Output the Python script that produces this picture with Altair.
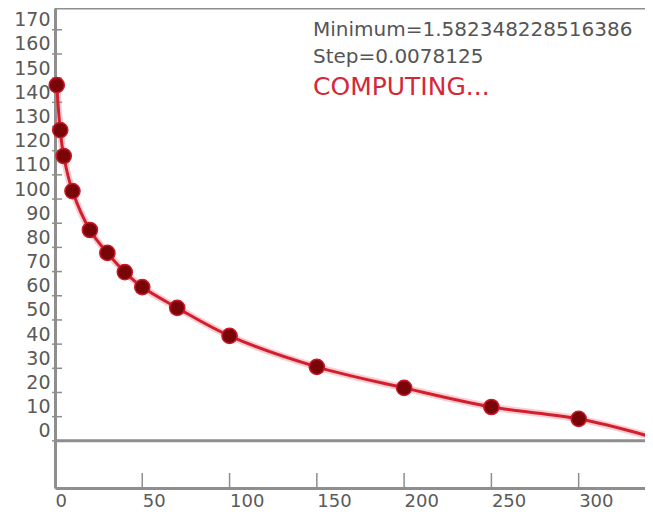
import altair as alt
import pandas as pd

# Data
POINT_X = [1, 3, 5, 10, 20, 30, 40, 50, 70, 100, 150, 200, 250, 300]
POINT_Y = [147.1, 128.5, 117.8, 103.3, 87.2, 77.7, 69.8, 63.6, 55.0, 43.4, 30.6, 21.9, 14.0, 9.1]
END_X = [342]
END_Y = [1.58]
Y_TICKS = list(range(0, 171, 10))
X_TICKS = [0, 50, 100, 150, 200, 250, 300]
X_DOMAIN = [0, 338]
Y_DOMAIN = [-19.5, 179]
INFO_MIN = "Minimum=1.582348228516386"
INFO_STEP = "Step=0.0078125"
STATUS = "COMPUTING..."

pts = pd.DataFrame({"x": POINT_X, "y": POINT_Y})
curve = pd.DataFrame({"x": POINT_X + END_X, "y": POINT_Y + END_Y})
yt = pd.DataFrame({"v": Y_TICKS})
xt = pd.DataFrame({"v": X_TICKS})
one = pd.DataFrame({"a": [0]})

GRAY = "#8e8e8e"
LABEL = "#5a5a5a"
FONT = "DejaVu Sans"

xs = alt.Scale(domain=X_DOMAIN, nice=False, zero=False)
ys = alt.Scale(domain=Y_DOMAIN, nice=False, zero=False)

xaxis = alt.Axis(values=X_TICKS, title=None, grid=False, ticks=False,
                 domainColor=GRAY, domainWidth=3, labelColor=LABEL,
                 labelFont=FONT, labelFontSize=18, labelAlign="left",
                 labelBaseline="top", labelPadding=4, labelFlush=False,
                 labelOverlap=False)
yaxis = alt.Axis(values=Y_TICKS, title=None, grid=False, ticks=False,
                 domainColor=GRAY, domainWidth=3, labelColor=LABEL,
                 labelFont=FONT, labelFontSize=19, labelAlign="right",
                 labelBaseline="alphabetic", labelOffset=-4, labelPadding=5,
                 labelFlush=False, labelOverlap=False)


def X(field):
    return alt.X(field, scale=xs, axis=xaxis)


def Y(field):
    return alt.Y(field, scale=ys, axis=yaxis)


glow = alt.Chart(curve).mark_line(
    interpolate="catmull-rom", color="#f07080", strokeWidth=7, opacity=0.35,
    clip=True
).encode(x=X("x:Q"), y=Y("y:Q"))

zero = alt.Chart(one).mark_rule(color=GRAY, strokeWidth=3).encode(
    y=alt.YDatum(0, axis=yaxis),
    x=alt.XDatum(X_DOMAIN[0], axis=xaxis),
    x2=alt.X2Datum(X_DOMAIN[1]),
)
top = alt.Chart(one).mark_rule(color=GRAY, strokeWidth=3).encode(
    y=alt.YDatum(Y_DOMAIN[1], axis=yaxis),
    x=alt.XDatum(X_DOMAIN[0], axis=xaxis),
    x2=alt.X2Datum(X_DOMAIN[1]),
)

yticks = alt.Chart(yt).mark_rule(color=GRAY, strokeWidth=1.5).encode(
    y=Y("v:Q"), x=alt.value(-3), x2=alt.value(7)
)
xticks = alt.Chart(xt).mark_rule(color=GRAY, strokeWidth=1.5).encode(
    x=X("v:Q"), y=alt.value(465), y2=alt.value(480)
)

line = alt.Chart(curve).mark_line(
    interpolate="catmull-rom", color="#d11f2e", strokeWidth=3, clip=True
).encode(x=X("x:Q"), y=Y("y:Q"))

dots = alt.Chart(pts).mark_point(
    filled=True, shape="circle", size=230, color="#7a0508", opacity=1,
    stroke="#c8182a", strokeWidth=1.5
).encode(x=X("x:Q"), y=Y("y:Q"))

info1 = alt.Chart(one).mark_text(
    align="left", baseline="middle", font=FONT, fontSize=20, color="#555555",
    text=INFO_MIN
).encode(x=alt.value(258), y=alt.value(22))
info2 = alt.Chart(one).mark_text(
    align="left", baseline="middle", font=FONT, fontSize=20, color="#555555",
    text=INFO_STEP
).encode(x=alt.value(258), y=alt.value(49))
status = alt.Chart(one).mark_text(
    align="left", baseline="middle", font=FONT, fontSize=25, color="#d4283a",
    text=STATUS
).encode(x=alt.value(258), y=alt.value(79))

chart = alt.layer(
    glow, zero, top, yticks, xticks, line, dots, info1, info2, status
).properties(
    width=590, height=480,
    autosize=alt.AutoSizeParams(type="none"),
    padding={"left": 47, "top": 0, "right": 0, "bottom": 22},
).configure_view(stroke=None).configure(background="white").configure_axis(
    labelOverlap=False
)

chart.save("out.html", embed_options={"renderer": "svg", "actions": False})
